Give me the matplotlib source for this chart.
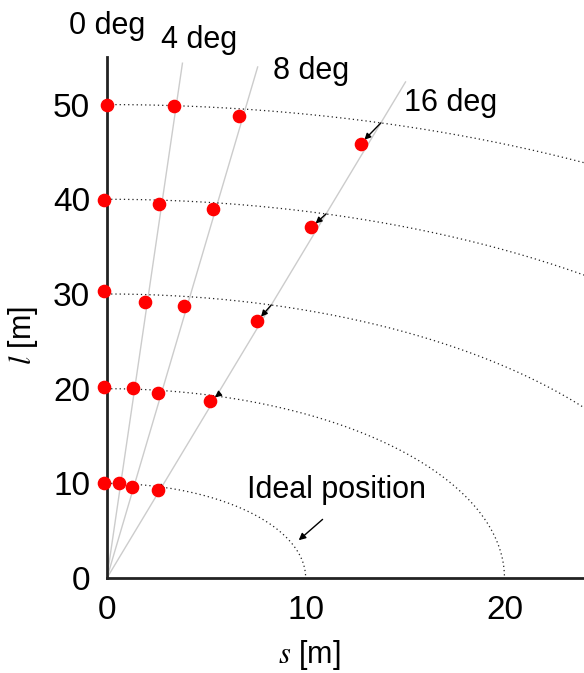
import numpy as np
import matplotlib
matplotlib.use("Agg")
import matplotlib.pyplot as plt

plt.rcParams['font.family'] = ['Liberation Sans', 'DejaVu Sans']
plt.rcParams['mathtext.fontset'] = 'stix'

# ideal grid: distances along the line of sight and inclination angles
radii = [10, 20, 30, 40, 50]
angles_deg = [0, 4, 8, 16]
angle_labels = ['0 deg', '4 deg', '8 deg', '16 deg']

# measured positions (s, l) for each angle, one entry per radius
meas_s = {
    0:  [-0.15, -0.15, -0.15, -0.15, 0.0],
    4:  [0.62, 1.29, 1.94, 2.60, 3.38],
    8:  [1.27, 2.58, 3.90, 5.34, 6.63],
    16: [2.55, 5.21, 7.57, 10.29, 12.76],
}
meas_l = {
    0:  [10.03, 20.14, 30.28, 39.97, 49.97],
    4:  [10.07, 20.03, 29.13, 39.51, 49.82],
    8:  [9.58, 19.51, 28.71, 39.02, 48.77],
    16: [9.26, 18.74, 27.16, 37.05, 45.86],
}

ray_length = 54.5

fig = plt.figure(figsize=(5.84, 6.73), dpi=100)
ax = fig.add_axes([0.183, 0.141, 0.817, 0.774])

# dotted arcs (circles of constant distance)
th = np.linspace(0, np.pi / 2, 400)
for r in radii:
    ax.plot(r * np.sin(th), r * np.cos(th), color='#222222', lw=0.9,
            linestyle=(0, (1, 2.4)), zorder=2)

# rays at each inclination
for a in angles_deg[1:]:
    t = np.deg2rad(a)
    ax.plot([0, ray_length * np.sin(t)], [0, ray_length * np.cos(t)],
            color='#cccccc', lw=1.0, zorder=1)

# arrows from ideal to measured position on the 16 deg line
t16 = np.deg2rad(16)
for r, s, l in zip(radii, meas_s[16], meas_l[16]):
    ax.annotate('', xy=(s, l), xytext=(r * np.sin(t16), r * np.cos(t16)),
                arrowprops=dict(arrowstyle='-|>', color='black', lw=1.0,
                                mutation_scale=9, shrinkA=0, shrinkB=4),
                zorder=3)

# measured points
for a in angles_deg:
    ax.plot(meas_s[a], meas_l[a], 'o', color='red', ms=8.8, mec='red',
            clip_on=False, zorder=4)

# angle labels
label_pos = [(0.0, 58.3), (4.62, 56.8), (10.25, 53.5), (17.3, 50.2)]
for txt, (x, y) in zip(angle_labels, label_pos):
    ax.text(x, y, txt, fontsize=22, ha='center', va='center')

ax.text(11.56, 9.3, 'Ideal position', fontsize=22, ha='center', va='center')
ax.annotate('', xy=(9.65, 4.0), xytext=(10.85, 6.2),
            arrowprops=dict(arrowstyle='-|>', color='black', lw=1.0,
                            mutation_scale=10, shrinkA=0, shrinkB=0))

ax.set_xlim(0, 24)
ax.set_ylim(0, 55)
ax.set_xticks([0, 10, 20])
ax.set_yticks([0, 10, 20, 30, 40, 50])
ax.tick_params(length=0, labelsize=24, pad=12)
for side in ['top', 'right']:
    ax.spines[side].set_visible(False)
for side in ['left', 'bottom']:
    ax.spines[side].set_linewidth(2.0)
    ax.spines[side].set_color('#222222')

ax.set_xlabel(r'$s$ [m]', fontsize=22)
ax.set_ylabel(r'$l$ [m]', fontsize=22)
ax.xaxis.set_label_coords(0.425, -0.115)
ax.yaxis.set_label_coords(-0.14, 0.466)

fig.savefig('out.png', dpi=100)
